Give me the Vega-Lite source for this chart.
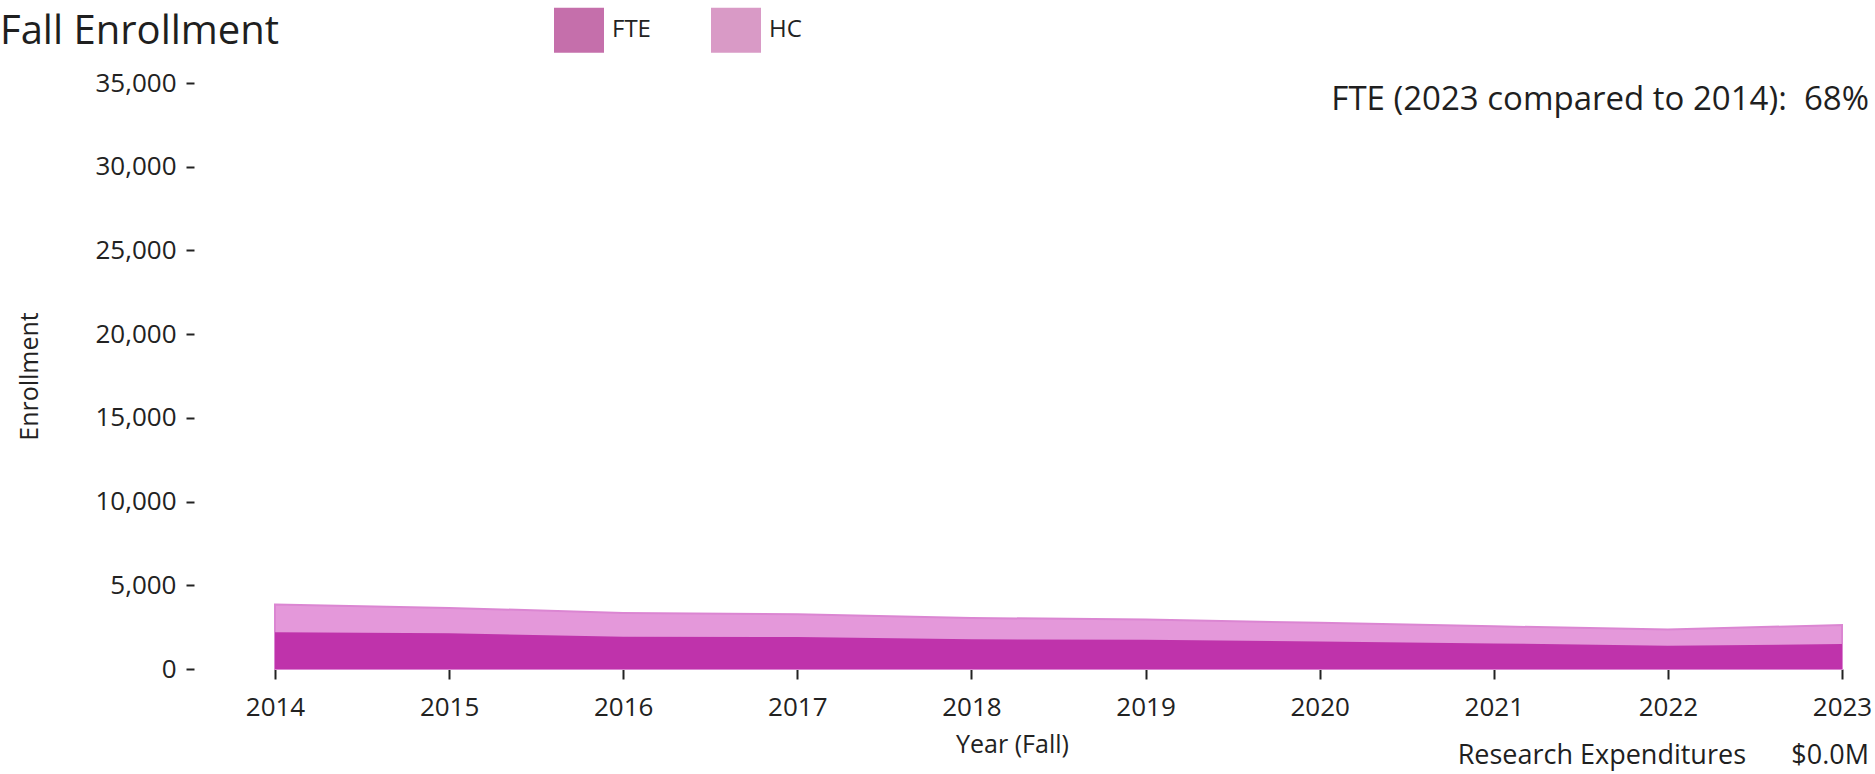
{
  "$schema": "https://vega.github.io/schema/vega-lite/v6.json",
  "width": 1567,
  "height": 586,
  "autosize": {"type": "none"},
  "padding": {"left": 275, "top": 83, "right": 33, "bottom": 105},
  "background": "white",
  "title": {
    "text": "Fall Enrollment",
    "anchor": "start",
    "frame": "group",
    "orient": "top",
    "dx": -275,
    "dy": 103,
    "offset": 24,
    "baseline": "alphabetic",
    "font": "Open Sans",
    "fontSize": 40,
    "fontWeight": "normal",
    "color": "#1f1f1f"
  },
  "config": {
    "view": {"stroke": null},
    "axis": {
      "labelFont": "Open Sans",
      "titleFont": "Open Sans",
      "labelColor": "#222222",
      "titleColor": "#222222",
      "tickColor": "#222222",
      "domain": false,
      "grid": false
    }
  },
  "datasets": {
    "enroll": [
      {"Year": 2014, "Type": "FTE", "Enrollment": 2200},
      {"Year": 2015, "Type": "FTE", "Enrollment": 2130},
      {"Year": 2016, "Type": "FTE", "Enrollment": 1920},
      {"Year": 2017, "Type": "FTE", "Enrollment": 1910},
      {"Year": 2018, "Type": "FTE", "Enrollment": 1770},
      {"Year": 2019, "Type": "FTE", "Enrollment": 1740},
      {"Year": 2020, "Type": "FTE", "Enrollment": 1640},
      {"Year": 2021, "Type": "FTE", "Enrollment": 1530},
      {"Year": 2022, "Type": "FTE", "Enrollment": 1390},
      {"Year": 2023, "Type": "FTE", "Enrollment": 1490},
      {"Year": 2014, "Type": "HC", "Enrollment": 3850},
      {"Year": 2015, "Type": "HC", "Enrollment": 3650},
      {"Year": 2016, "Type": "HC", "Enrollment": 3350},
      {"Year": 2017, "Type": "HC", "Enrollment": 3270},
      {"Year": 2018, "Type": "HC", "Enrollment": 3050},
      {"Year": 2019, "Type": "HC", "Enrollment": 2950},
      {"Year": 2020, "Type": "HC", "Enrollment": 2760},
      {"Year": 2021, "Type": "HC", "Enrollment": 2550},
      {"Year": 2022, "Type": "HC", "Enrollment": 2360},
      {"Year": 2023, "Type": "HC", "Enrollment": 2630}
    ],
    "notes": [
      {"key": "ratio", "Year": 2023, "Enrollment": 34000, "label": "FTE (2023 compared to 2014):\u00a0 68%"},
      {"key": "research", "Year": 2023, "Enrollment": 0, "label": "Research Expenditures"},
      {"key": "amount", "Year": 2023, "Enrollment": 0, "label": "$0.0M"}
    ]
  },
  "layer": [
    {
      "data": {"name": "enroll"},
      "transform": [{"filter": "datum.Type === 'HC'"}],
      "mark": {"type": "area", "color": "#e498da", "stroke": "#db86d2", "strokeWidth": 2, "interpolate": "linear"},
      "encoding": {
        "x": {
          "field": "Year",
          "type": "quantitative",
          "scale": {"domain": [2014, 2023], "nice": false, "zero": false},
          "axis": {
            "values": [2014, 2015, 2016, 2017, 2018, 2019, 2020, 2021, 2022, 2023],
            "format": "d",
            "labelFontSize": 26,
            "labelPadding": 15,
            "tickSize": 10,
            "tickWidth": 2,
            "labelFlush": false,
            "labelOverlap": false,
            "title": "Year (Fall)",
            "titleFontSize": 25,
            "titleFontWeight": "normal",
            "titlePadding": 12,
            "titleX": 737
          }
        },
        "y": {
          "field": "Enrollment",
          "type": "quantitative",
          "stack": null,
          "scale": {"domain": [0, 35000], "nice": false},
          "axis": {
            "values": [0, 5000, 10000, 15000, 20000, 25000, 30000, 35000],
            "format": ",d",
            "offset": 81,
            "labelFontSize": 26,
            "labelPadding": 10,
            "tickSize": 8,
            "tickWidth": 2,
            "title": "Enrollment",
            "titleFontSize": 25,
            "titleFontWeight": "normal",
            "titlePadding": 52
          }
        }
      }
    },
    {
      "data": {"name": "enroll"},
      "transform": [{"filter": "datum.Type === 'FTE'"}],
      "mark": {"type": "area", "color": "#bf33ab", "interpolate": "linear"},
      "encoding": {
        "x": {"field": "Year", "type": "quantitative"},
        "y": {"field": "Enrollment", "type": "quantitative", "stack": null}
      }
    },
    {
      "data": {"name": "enroll"},
      "mark": {"type": "square", "opacity": 0},
      "encoding": {
        "x": {"field": "Year", "type": "quantitative"},
        "y": {"field": "Enrollment", "type": "quantitative"},
        "color": {
          "field": "Type",
          "type": "nominal",
          "scale": {"domain": ["FTE", "HC"], "range": ["#c56fab", "#d99ac6"]},
          "legend": {
            "orient": "none",
            "legendX": 279,
            "legendY": -78,
            "direction": "horizontal",
            "title": null,
            "symbolType": "M-1,-0.9L1,-0.9L1,0.9L-1,0.9Z",
            "symbolSize": 2500,
            "symbolStrokeWidth": 0,
            "symbolOpacity": 1,
            "labelFont": "Open Sans",
            "labelFontSize": 24,
            "labelColor": "#222222",
            "labelOffset": 8,
            "columnPadding": 60
          }
        }
      }
    },
    {
      "data": {"name": "notes"},
      "transform": [{"filter": "datum.key === 'ratio'"}],
      "mark": {"type": "text", "align": "right", "baseline": "middle", "dx": 27, "font": "Open Sans", "fontSize": 33, "color": "#1f1f1f"},
      "encoding": {
        "x": {"field": "Year", "type": "quantitative"},
        "y": {"field": "Enrollment", "type": "quantitative"},
        "text": {"field": "label"}
      }
    },
    {
      "data": {"name": "notes"},
      "transform": [{"filter": "datum.key === 'research'"}],
      "mark": {"type": "text", "align": "right", "baseline": "middle", "dx": -96, "dy": 87, "font": "Open Sans", "fontSize": 27, "color": "#1f1f1f"},
      "encoding": {
        "x": {"field": "Year", "type": "quantitative"},
        "y": {"field": "Enrollment", "type": "quantitative"},
        "text": {"field": "label"}
      }
    },
    {
      "data": {"name": "notes"},
      "transform": [{"filter": "datum.key === 'amount'"}],
      "mark": {"type": "text", "align": "right", "baseline": "middle", "dx": 27, "dy": 87, "font": "Open Sans", "fontSize": 27, "color": "#1f1f1f"},
      "encoding": {
        "x": {"field": "Year", "type": "quantitative"},
        "y": {"field": "Enrollment", "type": "quantitative"},
        "text": {"field": "label"}
      }
    }
  ]
}
